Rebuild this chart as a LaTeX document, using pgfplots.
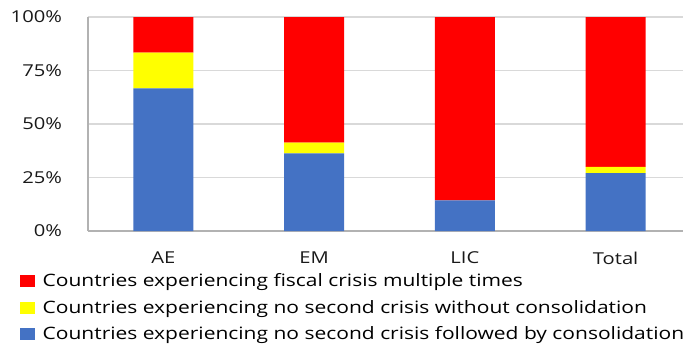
\documentclass[border=0pt]{standalone}
\usepackage{pgfplots}
\pgfplotsset{compat=1.18}
\usepackage{fontspec}
\setmainfont{Open Sans}[FakeStretch=1.23]
\definecolor{cred}{HTML}{FF0000}
\definecolor{cyel}{HTML}{FFFF00}
\definecolor{cblue}{HTML}{4472C4}
\begin{document}
\begin{tikzpicture}
\path[use as bounding box] (0pt,0pt) rectangle (512.25pt,258pt);
\clip (0pt,0pt) rectangle (512.25pt,258pt);
\begin{axis}[
  at={(66pt,84.75pt)}, anchor=south west, scale only axis,
  width=452.25pt, height=160.5pt,
  ybar stacked, bar width=45pt,
  xmin=-0.5, xmax=3.5, ymin=0, ymax=100,
  xtick={0,1,2,3}, xticklabels={AE,EM,LIC,Total},
  ytick={0,25,50,75,100}, yticklabels={0\%,25\%,50\%,75\%,100\%},
  ymajorgrids, grid style={draw=black!15, line width=0.8pt},
  axis x line*=bottom, axis y line*=left,
  axis line style={draw=black!30, line width=0.8pt, -},
  major tick length=0pt,
  tick label style={font=\fontsize{12.3}{14}\selectfont, text=black!90},
  yticklabel style={xshift=-16pt},
  xticklabel style={yshift=-12pt},
  legend style={at={(axis description cs:-0.1127,-0.185)}, anchor=north west,
    draw=none, fill=none, font=\fontsize{12.8}{14}\selectfont,
    row sep=4.7pt, inner sep=0pt,
    /tikz/every odd column/.style={column sep=3.5pt}},
  legend cell align=left, reverse legend,
  legend image code/.code={\fill[#1] (0pt,-4.5pt) rectangle (11.25pt,4.5pt);},
]
\addplot[fill=cblue, draw=none] coordinates {(0,66.7) (1,36.3) (2,14.3) (3,27.1)};
\addplot[fill=cyel, draw=none] coordinates {(0,16.7) (1,5.0) (2,0) (3,2.9)};
\addplot[fill=cred, draw=none] coordinates {(0,16.6) (1,58.7) (2,85.7) (3,70.0)};
\legend{Countries experiencing no second crisis followed by consolidation,
Countries experiencing no second crisis without consolidation,
Countries experiencing fiscal crisis multiple times}
\end{axis}
\end{tikzpicture}
\end{document}
